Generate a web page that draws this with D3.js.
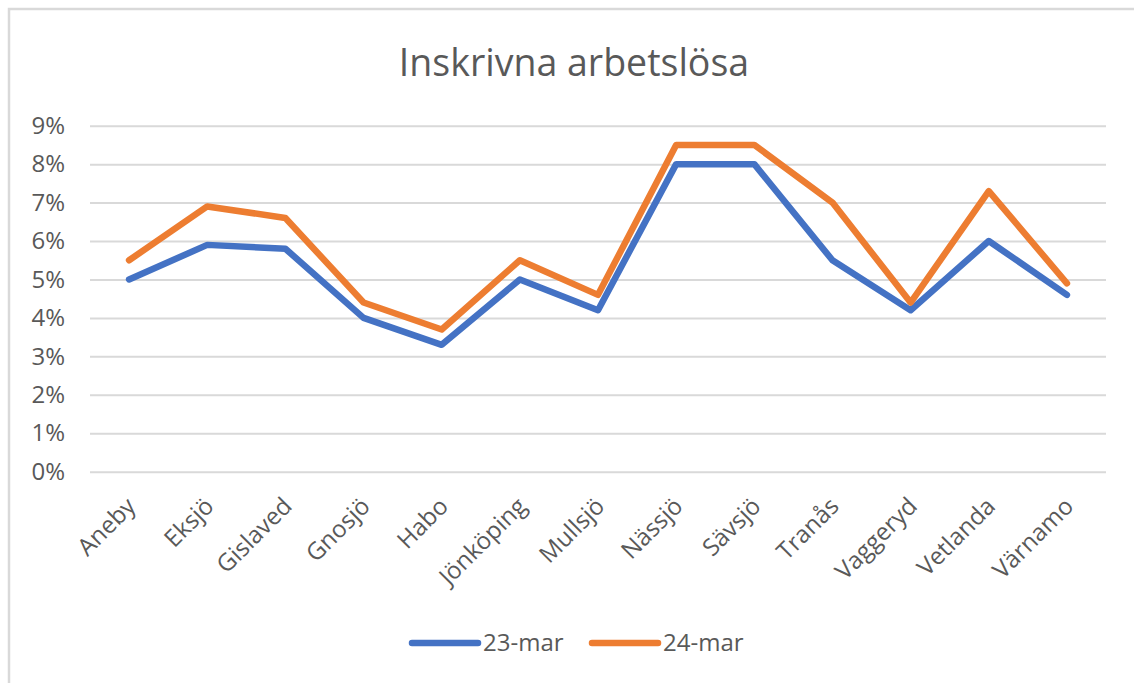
<!DOCTYPE html>
<html>
<head>
<meta charset="utf-8">
<script src="https://cdn.jsdelivr.net/npm/d3@7"></script>
<style>
  body { margin: 0; background: #fff; }
  svg { display: block; font-family: "Open Sans", sans-serif; }
</style>
</head>
<body>
<svg id="chart"></svg>
<script>
// Data (percent)
const kommuner = ['Aneby','Eksjö','Gislaved','Gnosjö','Habo','Jönköping','Mullsjö','Nässjö','Sävsjö','Tranås','Vaggeryd','Vetlanda','Värnamo'];
const mar23 = [5.0, 5.9, 5.8, 4.0, 3.3, 5.0, 4.2, 8.0, 8.0, 5.5, 4.2, 6.0, 4.6];
const mar24 = [5.5, 6.9, 6.6, 4.4, 3.7, 5.5, 4.6, 8.5, 8.5, 7.0, 4.4, 7.3, 4.9];
const seriesNames = ['23-mar', '24-mar'];
const yTicks = [0, 1, 2, 3, 4, 5, 6, 7, 8, 9];

class LineChart {

  constructor(_config) {
    this.config = {
      parentElement: _config.parentElement,
      containerWidth: _config.containerWidth || 1134,
      containerHeight: _config.containerHeight || 683,
      margin: _config.margin || {top: 125.7, right: 28, bottom: 211.3, left: 90}
    };
    this.initVis();
  }

  initVis() {
    let vis = this;

    vis.width = vis.config.containerWidth - vis.config.margin.left - vis.config.margin.right;
    vis.height = vis.config.containerHeight - vis.config.margin.top - vis.config.margin.bottom;

    vis.svg = d3.select(vis.config.parentElement)
      .attr('width', vis.config.containerWidth)
      .attr('height', vis.config.containerHeight);

    // chart border (only top + left are visible in the screenshot)
    vis.svg.append('path')
      .attr('d', `M9,${vis.config.containerHeight} V9 H${vis.config.containerWidth}`)
      .attr('fill', 'none')
      .attr('stroke', '#d9d9d9')
      .attr('stroke-width', 2.5);

    vis.svg.append('text')
      .attr('x', 574)
      .attr('y', 76)
      .attr('text-anchor', 'middle')
      .attr('font-size', '37.5px')
      .attr('fill', '#595959')
      .text('Inskrivna arbetslösa');

    vis.chart = vis.svg.append('g')
      .attr('transform', `translate(${vis.config.margin.left},${vis.config.margin.top})`);

    vis.xScale = d3.scaleBand()
      .domain(kommuner)
      .range([0, vis.width]);

    vis.yScale = d3.scaleLinear()
      .domain([0, 9])
      .range([vis.height, 0]);

    vis.colors = d3.scaleOrdinal()
      .domain(seriesNames)
      .range(['#4472c4', '#ed7d31']);

    vis.updateVis();
  }

  updateVis() {
    let vis = this;
    vis.series = [
      {name: seriesNames[0], values: mar23},
      {name: seriesNames[1], values: mar24}
    ];
    vis.renderVis();
  }

  renderVis() {
    let vis = this;

    // gridlines + y labels
    const yAxis = d3.axisLeft(vis.yScale)
      .tickValues(yTicks)
      .tickSize(-vis.width)
      .tickPadding(25)
      .tickFormat(d => d + '%');

    const yAxisG = vis.chart.append('g').call(yAxis);
    yAxisG.select('.domain').remove();
    yAxisG.selectAll('line')
      .attr('stroke', '#d9d9d9')
      .attr('stroke-width', 2);
    yAxisG.selectAll('text')
      .attr('fill', '#595959')
      .attr('font-size', '24px')
      .attr('font-family', '"Open Sans", sans-serif');

    // x labels, rotated
    const xAxis = d3.axisBottom(vis.xScale).tickSize(0).tickPadding(0);
    const xAxisG = vis.chart.append('g')
      .attr('transform', `translate(0,${vis.height})`)
      .call(xAxis);
    xAxisG.select('.domain').remove();
    xAxisG.selectAll('text')
      .attr('fill', '#595959')
      .attr('font-size', '24px')
      .attr('font-family', '"Open Sans", sans-serif')
      .attr('text-anchor', 'end')
      .attr('dy', 0)
      .attr('y', 0)
      .attr('transform', 'translate(8,36) rotate(-45)');

    const line = d3.line()
      .x((d, i) => vis.xScale(kommuner[i]) + vis.xScale.bandwidth() / 2)
      .y(d => vis.yScale(d));

    vis.chart.selectAll('.serie')
      .data(vis.series)
      .join('path')
      .attr('class', 'serie')
      .attr('d', d => line(d.values))
      .attr('fill', 'none')
      .attr('stroke', d => vis.colors(d.name))
      .attr('stroke-width', 6.5)
      .attr('stroke-linejoin', 'round')
      .attr('stroke-linecap', 'round');

    // legend
    const legend = vis.svg.append('g')
      .attr('transform', 'translate(0,643)');
    const items = legend.selectAll('g')
      .data(seriesNames)
      .join('g')
      .attr('transform', (d, i) => `translate(${412 + i * 180},0)`);
    items.append('line')
      .attr('x1', 0).attr('x2', 66)
      .attr('stroke', d => vis.colors(d))
      .attr('stroke-width', 6.5)
      .attr('stroke-linecap', 'round');
    items.append('text')
      .attr('x', 71)
      .attr('dy', '0.35em')
      .attr('font-size', '24px')
      .attr('fill', '#595959')
      .text(d => d);
  }
}

new LineChart({parentElement: '#chart'});
</script>
</body>
</html>
